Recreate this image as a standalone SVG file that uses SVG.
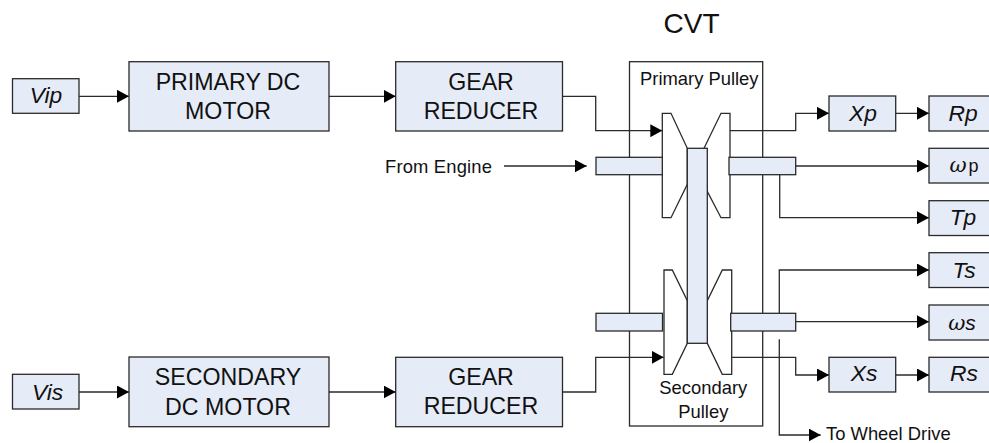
<svg xmlns="http://www.w3.org/2000/svg" width="989" height="443" viewBox="0 0 989 443">
<style>
.box{fill:#e6ecf7;stroke:#2a2a2a;stroke-width:1.3}
.pul{fill:#fff;stroke:#2a2a2a;stroke-width:1.3;stroke-linejoin:miter}
.frame{fill:#fff;stroke:#2a2a2a;stroke-width:1.3}
.c{fill:none;stroke:#2a2a2a;stroke-width:1.3;marker-end:url(#a)}
text{font-family:"Liberation Sans",Arial,sans-serif;fill:#111}
.m{font-size:23.2px;text-anchor:middle}
.v{font-size:22.8px;font-style:italic;text-anchor:middle}
.s{font-size:18.4px}
.w{font-family:"DejaVu Serif","Liberation Serif",serif;font-style:italic;font-size:21px}
</style>
<defs>
<marker id="a" markerUnits="userSpaceOnUse" markerWidth="12" markerHeight="13" refX="12" refY="6.5" orient="auto"><path d="M0 0L12 6.5L0 13Z" fill="#000"/></marker>
</defs>
<rect width="989" height="443" fill="#fff"/>
<g id="cvt">
<rect class="frame" x="629.5" y="61.7" width="133.2" height="364.3"/>
<text x="691.5" y="33.3" font-size="28" text-anchor="middle">CVT</text>
<text class="s" x="640" y="85">Primary Pulley</text>
<text class="s" x="703.3" y="394" text-anchor="middle">Secondary</text>
<text class="s" x="703.3" y="417.7" text-anchor="middle">Pulley</text>
</g>
<g id="connectors">
<path class="c" d="M79 96.3H129"/>
<path class="c" d="M329 96.3H395.7"/>
<path class="c" d="M562.5 96.3H595.7V130.7H662.3"/>
<path class="c" d="M504 166H586.7"/>
<path class="c" d="M730 130.7H795.7V113.3H829"/>
<path class="c" d="M895.7 113.3H929"/>
<path class="c" d="M795.7 166H929"/>
<path class="c" d="M779.7 174.7V217.7H929"/>
<path class="c" d="M779.3 313.3V270H929"/>
<path class="c" d="M795.7 321.7H929"/>
<path class="c" d="M731.7 357.3H795.7V375H829"/>
<path class="c" d="M895.7 375H929"/>
<path class="c" d="M779.3 339.3V435H820.7"/>
<path class="c" d="M79 392H129"/>
<path class="c" d="M329 392H395.7"/>
<path class="c" d="M562.5 392H595.7V357.3H663.7"/>
</g>
<g id="primary-pulley">
<path class="pul" d="M662.3 113.3H671L687.3 148.3V184.3L671 217.7H662.3Z"/>
<path class="pul" d="M730 113.3H721L704 148.3L707.5 191.7L721 217.7H730Z"/>
<rect class="box" x="596" y="157.3" width="66.3" height="17.4"/>
<rect class="box" x="729" y="157.3" width="66.7" height="17.4"/>
</g>
<g id="secondary-pulley">
<path class="pul" d="M664 270H672.3L687.3 300.7V343.3L672.3 374.3H664Z"/>
<path class="pul" d="M731.7 270H722.3L707.3 300.7V343.3L722.3 374.3H731.7Z"/>
<rect class="box" x="596" y="313.3" width="66.5" height="17.7"/>
<rect class="box" x="730.7" y="313.3" width="65" height="17.7"/>
</g>
<g id="belt"><rect class="box" x="687.3" y="148.3" width="20" height="195"/></g>
<g id="from-engine"><text class="s" x="385" y="173" textLength="107">From Engine</text></g>
<g id="to-wheel"><text class="s" x="826" y="440">To Wheel Drive</text></g>
<g id="vip"><rect class="box" x="12.5" y="78.7" width="66.5" height="34.6"/><text class="v" x="46" y="103.3">Vip</text></g>
<g id="primary-motor"><rect class="box" x="129" y="61.7" width="200" height="69.3"/><text class="m" x="228" y="90">PRIMARY DC</text><text class="m" x="228" y="119">MOTOR</text></g>
<g id="primary-gear"><rect class="box" x="395.7" y="61.7" width="166.8" height="69.3"/><text class="m" x="481" y="90">GEAR</text><text class="m" x="481" y="119">REDUCER</text></g>
<g id="vis"><rect class="box" x="12.5" y="374.3" width="66.5" height="34.7"/><text class="v" x="47.6" y="400">Vis</text></g>
<g id="secondary-motor"><rect class="box" x="129" y="357" width="200" height="69.7"/><text class="m" x="228" y="384.5">SECONDARY</text><text class="m" x="228" y="415">DC MOTOR</text></g>
<g id="secondary-gear"><rect class="box" x="395.7" y="357.3" width="166.8" height="69.4"/><text class="m" x="481" y="385">GEAR</text><text class="m" x="481" y="413.5">REDUCER</text></g>
<g id="xp"><rect class="box" x="829" y="96" width="66.7" height="35"/><text class="v" x="863" y="120.7">Xp</text></g>
<g id="rp"><rect class="box" x="929" y="96" width="62" height="35"/><text class="v" x="963" y="120.7">Rp</text></g>
<g id="wp"><rect class="box" x="929" y="148.3" width="62" height="34.7"/><text class="v" x="964" y="172.3"><tspan class="w">ω</tspan><tspan font-style="normal" font-size="18" dx="2">p</tspan></text></g>
<g id="tp"><rect class="box" x="929" y="200.7" width="62" height="34.8"/><text class="v" x="963" y="225">Tp</text></g>
<g id="ts"><rect class="box" x="929" y="252.7" width="62" height="34.8"/><text class="v" x="964" y="277.7">Ts</text></g>
<g id="ws"><rect class="box" x="929" y="305" width="62" height="35"/><text class="v" x="962" y="330"><tspan class="w">ω</tspan><tspan font-size="21">s</tspan></text></g>
<g id="xs"><rect class="box" x="829" y="357.3" width="66.7" height="34.7"/><text class="v" x="864" y="381">Xs</text></g>
<g id="rs"><rect class="box" x="929" y="357.3" width="62" height="34.7"/><text class="v" x="964" y="381">Rs</text></g>
</svg>
